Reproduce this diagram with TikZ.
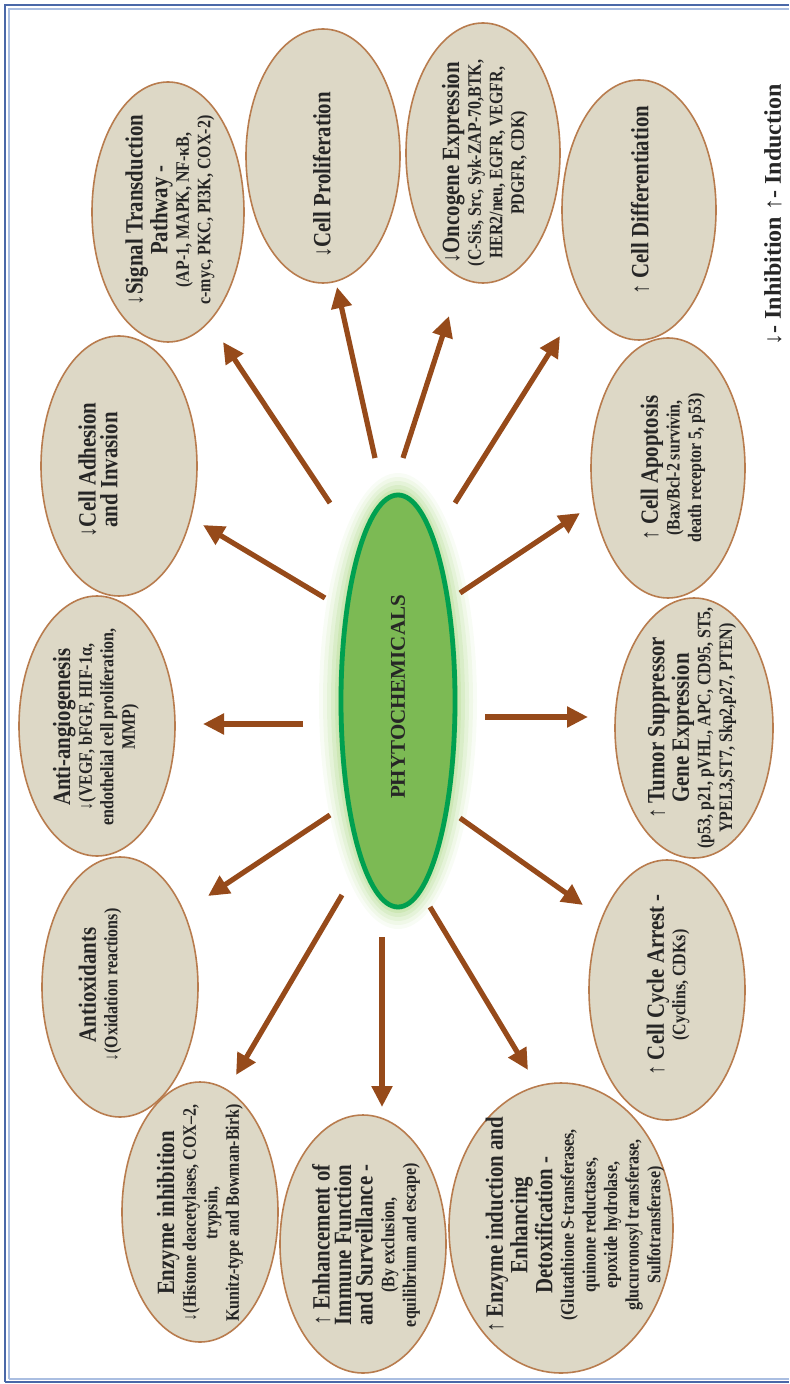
\documentclass[tikz,border=0pt]{standalone}
\usepackage{fontspec}
\setmainfont{Liberation Serif}
\newfontfamily\condf[FakeStretch=0.84]{Liberation Serif}
\newfontfamily\condg[FakeStretch=0.84]{Liberation Serif}
\usetikzlibrary{shapes.geometric,arrows.meta}
\definecolor{ellfill}{RGB}{221,216,198}
\definecolor{ellstroke}{RGB}{184,124,78}
\definecolor{arrbrown}{RGB}{150,74,26}
\definecolor{gfill}{RGB}{124,186,84}
\definecolor{gstroke}{RGB}{0,160,80}
\definecolor{glow}{RGB}{170,215,130}
\definecolor{framecol}{RGB}{74,104,168}
\definecolor{framelight}{RGB}{170,190,225}
\newcommand\ttl{\condf\fontsize{12.4}{10.8}\selectfont\bfseries}
\newcommand\sml{\condg\fontsize{9.5}{10.3}\selectfont\bfseries}
\newcommand\dn{{\mdseries ↓}}
\newcommand\upa{{\mdseries ↑}}
\begin{document}
\begin{tikzpicture}[x=0.5pt,y=-0.5pt,
  ell/.style 2 args={ellipse,draw=ellstroke,fill=ellfill,line width=0.8pt,minimum width=#1,minimum height=#2,inner sep=0pt},
  txt/.style={rotate=90,align=center,font=\ttl,inner sep=0pt,text=black!85},
  arr/.style={draw=arrbrown,line width=2.6pt,-{Triangle[length=10.5pt,width=10pt]}}]
\useasboundingbox (0,0) rectangle (789,1384);
% frame
\draw[framelight,line width=1pt] (9,1379) -- (9,9) -- (789,9);
\draw[framelight,line width=1pt] (9,1379) -- (789,1379);
\draw[framecol,line width=1.4pt] (5,1382) -- (5,5) -- (789,5);
\draw[framecol,line width=1.4pt] (5,1382) -- (789,1382);
% ellipses
\node[ell={76pt}{130pt}] (sig) at (168,212) {};
\node[ell={77pt}{127pt}] (pro) at (323,156) {};
\node[ell={77pt}{130pt}] (onc) at (483,153) {};
\node[ell={77pt}{130pt}] (dif) at (639,210) {};
\node[ell={77pt}{130pt}] (apo) at (668,468) {};
\node[ell={79pt}{130pt}] (tum) at (694,728) {};
\node[ell={78pt}{130pt}] (cyc) at (667,990) {};
\node[ell={112pt}{145pt}] (ein) at (561,1228) {};
\node[ell={83pt}{129pt}] (imm) at (363,1244) {};
\node[ell={78pt}{130pt}] (inh) at (200,1212) {};
\node[ell={78pt}{130pt}] (aox) at (120,987) {};
\node[ell={78pt}{130pt}] (ang) at (97,726) {};
\node[ell={78pt}{130pt}] (adh) at (119,466) {};
% central
\foreach \g/\o in {22/0.08,18/0.11,14/0.15,10/0.2,6/0.26,3/0.3}{
  \fill[glow,opacity=\o] (398,701) ellipse ({57+\g} and {206+\g});
}
\node[ellipse,draw=gstroke,fill=gfill,line width=2.4pt,minimum width=57pt,minimum height=206pt,inner sep=0pt] (phy) at (398,701) {};
\node[txt,font=\fontsize{10.5}{11}\selectfont\bfseries] (phyt) at (398,697) {PHYTOCHEMICALS};
% texts
\node[txt] (sigt) at (170,210) {\dn Signal Transduction\\Pathway -\\\sml (AP-1, MAPK, NF-κB,\\\sml c-myc, PKC, PI3K, COX-2)};
\node[txt] (prot) at (322,175) {\dn Cell Proliferation};
\node[txt] (onct) at (485,163) {\dn Oncogene Expression\\\sml (C-Sis, Src, Syk-ZAP-70,BTK,\\\sml HER2/neu, EGFR, VEGFR,\\\sml PDGFR, CDK)};
\node[txt] (dift) at (640,200) {\upa\ Cell Differentiation};
\node[txt] (apot) at (673,468) {\upa\ Cell Apoptosis\\\sml (Bax/Bcl-2 survivin,\\\sml death receptor 5, p53)};
\node[txt] (tumt) at (692,728) {\upa\ Tumor Suppressor\\Gene Expression\\\sml (p53, p21, pVHL, APC, CD95, ST5,\\\sml YPEL3,ST7, Skp2,p27, PTEN)};
\node[txt] (cyct) at (668,985) {\upa\ Cell Cycle Arrest -\\\sml (Cyclins, CDKs)};
\node[txt] (eint) at (575,1225) {\upa\ Enzyme induction and\\Enhancing\\Detoxification -\\\sml (Glutathione S-transferases,\\\sml quinone reductases,\\\sml epoxide hydrolase,\\\sml glucuronosyl transferase,\\\sml Sulfotransferase)};
\node[txt] (immt) at (366,1245) {\upa\ Enhancement of\\Immune Function\\and Surveillance -\\\sml (By exclusion,\\\sml equilibrium and escape)};
\node[txt] (inht) at (200,1213) {Enzyme inhibition\\\sml \dn(Histone deacetylases, COX–2,\\\sml trypsin,\\\sml Kunitz-type and Bowman-Birk)};
\node[txt] (aoxt) at (100,985) {Antioxidants\\\sml \dn(Oxidation reactions)};
\node[txt] (angt) at (96,727) {Anti-angiogenesis\\\sml \dn(VEGF, bFGF, HIF-1α,\\\sml endothelial cell proliferation,\\\sml MMP)};
\node[txt] (adht) at (98,470) {\dn Cell Adhesion\\and Invasion};
% legend
\node[txt,font=\fontsize{12}{13}\selectfont\bfseries] (leg) at (773,215) {\dn- Inhibition \upa- Induction};
% arrows
\coordinate (t1) at (330,503); \coordinate (h1) at (223,342);
\coordinate (t2) at (375,458); \coordinate (h2) at (337,287);
\coordinate (t3) at (403,458); \coordinate (h3) at (449,316);
\coordinate (t4) at (455,503); \coordinate (h4) at (560,336);
\coordinate (t5) at (460,593); \coordinate (h5) at (580,513);
\coordinate (t6) at (485,717); \coordinate (h6) at (588,717);
\coordinate (t7) at (460,818); \coordinate (h7) at (583,905);
\coordinate (t8) at (430,907); \coordinate (h8) at (528,1070);
\coordinate (t9) at (382,937); \coordinate (h9) at (382,1107);
\coordinate (t10) at (342,895); \coordinate (h10) at (236,1075);
\coordinate (t11) at (330,815); \coordinate (h11) at (208,896);
\coordinate (t12) at (303,724); \coordinate (h12) at (203,724);
\coordinate (t13) at (325,598); \coordinate (h13) at (203,525);
\foreach \i in {1,...,13}{\draw[arr] (t\i) -- (h\i);}
\end{tikzpicture}
\end{document}
